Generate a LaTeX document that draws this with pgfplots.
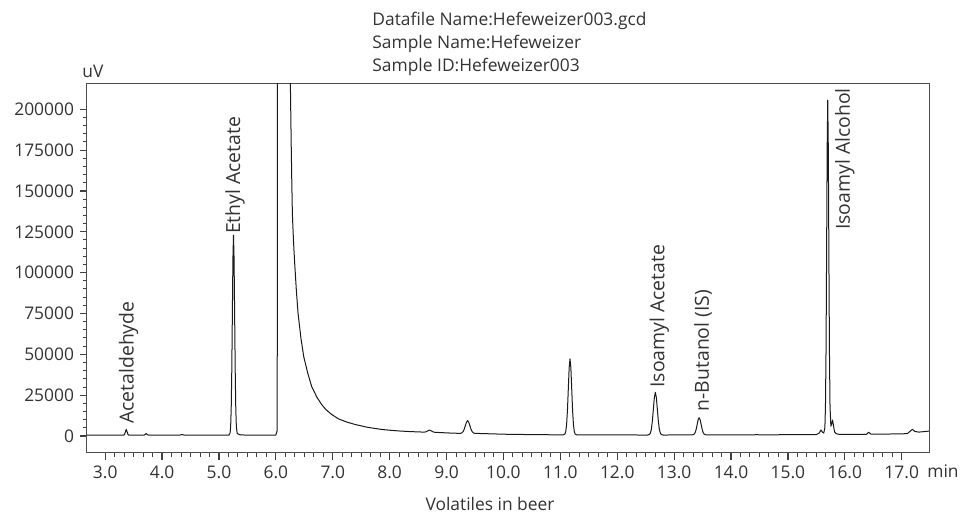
\documentclass[border=0pt]{standalone}
\usepackage{pgfplots}
\pgfplotsset{compat=1.18}
\usepackage{fontspec}
\setmainfont{Open Sans}

% chromatogram trace, time in min and signal in uV
\pgfplotstableread{
t v
2.68 500
3.30 500
3.325 540
3.34 974
3.355 2620
3.37 4000
3.385 2620
3.40 974
3.415 540
3.45 500
3.68 520
3.70 900
3.72 1500
3.74 900
3.76 550
4.30 500
4.35 900
4.40 500
5.175 500
5.195 1860
5.205 5880
5.215 17100
5.225 40300
5.235 74800
5.245 108600
5.255 123000
5.265 108600
5.275 74800
5.285 40300
5.295 17100
5.305 5880
5.32 1600
5.36 800
5.45 600
6.00 600
6.02 3000
6.025 60000
6.03 300000
6.12 1000000
6.20 1000000
6.25 240000
6.255 215000
6.27 177000
6.28 155000
6.29 136000
6.31 119000
6.33 106000
6.36 89000
6.39 75000
6.44 60000
6.49 48500
6.56 38500
6.63 30200
6.72 23800
6.80 19500
6.87 16500
6.98 13200
7.10 10500
7.25 8500
7.40 7000
7.60 5400
7.86 4000
8.05 3400
8.20 3000
8.40 2650
8.55 2450
8.61 2400
8.64 2576
8.67 3190
8.70 3700
8.73 3190
8.76 2576
8.79 2300
9.00 1900
9.21 1650
9.25 1687
9.27 1942
9.29 2655
9.31 4133
9.33 6331
9.35 8484
9.37 9400
9.39 8484
9.41 6331
9.43 4133
9.45 2655
9.47 1942
9.49 1687
9.53 1600
10.00 1100
10.50 850
11.05 700
11.08 1200
11.095 2740
11.11 7000
11.125 15800
11.14 28900
11.155 41740
11.17 47200
11.185 41740
11.20 28900
11.215 15800
11.23 7000
11.245 2740
11.26 1200
11.29 700
12.00 650
12.53 600
12.565 890
12.5825 1746
12.60 4130
12.6175 9075
12.635 16430
12.6525 23630
12.67 26700
12.6875 23630
12.705 16430
12.7225 9075
12.74 4130
12.7575 1746
12.775 890
12.81 600
13.30 700
13.335 817
13.3525 1161
13.37 2121
13.3875 4109
13.405 7068
13.4225 9966
13.44 11200
13.4575 9966
13.475 7068
13.4925 4109
13.51 2121
13.5275 1161
13.545 817
13.58 700
14.40 700
14.45 850
14.50 700
15.00 800
15.50 900
15.55 1800
15.58 3700
15.61 2200
15.63 1800
15.65 5300
15.66 18300
15.67 52000
15.68 111400
15.69 176300
15.70 205600
15.71 176300
15.72 111400
15.73 52000
15.74 18300
15.755 6000
15.77 7500
15.785 9800
15.80 6500
15.82 2500
15.85 1400
15.90 1000
16.38 1000
16.42 2300
16.46 1100
17.00 1300
17.10 1500
17.15 3000
17.19 4100
17.23 2800
17.30 2400
17.40 2700
17.48 3000
}\chrom

\begin{document}
\fontsize{8.7}{10.5}\selectfont
\begin{tikzpicture}[
    peak/.style={rotate=90, anchor=west, inner sep=0pt, text=black!80,
        font=\fontsize{9.7}{11}\selectfont},
]
\useasboundingbox (-43.5pt,-32pt) rectangle (437.5pt,226.5pt);
\begin{axis}[
    name=ax,
    at={(0,0)}, anchor=south west,
    scale only axis,
    width=421pt, height=184.5pt,
    xmin=2.68, xmax=17.48,
    ymin=-10400, ymax=215500,
    axis line style={draw=black!70, line width=0.5pt},
    major tick style={draw=black!75, line width=0.6pt},
    minor tick style={draw=black!75, line width=0.5pt},
    tick align=outside,
    xtick pos=bottom, ytick pos=left,
    major tick length=3.4pt, minor tick length=2.2pt,
    xtick={3,4,...,17}, minor x tick num=5,
    ytick={0,25000,...,200000}, minor y tick num=4,
    scaled y ticks=false,
    yticklabel style={/pgf/number format/.cd, fixed, precision=0, 1000 sep={}},
    xticklabel style={/pgf/number format/.cd, fixed, fixed zerofill, precision=1},
    /pgf/number format/assume math mode=true,
    tick label style={text=black!80},
]
\addplot[black!90, line width=0.5pt, line join=round] table[x=t, y=v] {\chrom};

\node[peak] at (axis cs:3.41,7300) {Acetaldehyde};
\node[peak] at (axis cs:5.285,123500) {Ethyl Acetate};
\node[peak] at (axis cs:12.74,29400) {Isoamyl Acetate};
\node[peak] at (axis cs:13.51,14900) {n-Butanol (IS)};
\node[peak] at (axis cs:16.0,126000) {Isoamyl Alcohol};
\end{axis}

\node[anchor=base west, inner sep=0pt, text=black!80] at ([xshift=-2.5pt, yshift=3pt]ax.north west) {uV};
\node[anchor=base west, inner sep=0pt, text=black!80] at ([xshift=-1pt, yshift=-12.5pt]ax.south east) {min};
\node[anchor=base, inner sep=0pt, text=black!80] at ([xshift=201.5pt, yshift=-29pt]ax.south west) {Volatiles in beer};
\node[anchor=base west, inner sep=0pt, text=black!80] at ([xshift=142.5pt, yshift=29pt]ax.north west) {Datafile Name:Hefeweizer003.gcd};
\node[anchor=base west, inner sep=0pt, text=black!80] at ([xshift=142.5pt, yshift=17.5pt]ax.north west) {Sample Name:Hefeweizer};
\node[anchor=base west, inner sep=0pt, text=black!80] at ([xshift=142.5pt, yshift=6pt]ax.north west) {Sample ID:Hefeweizer003};
\end{tikzpicture}
\end{document}
